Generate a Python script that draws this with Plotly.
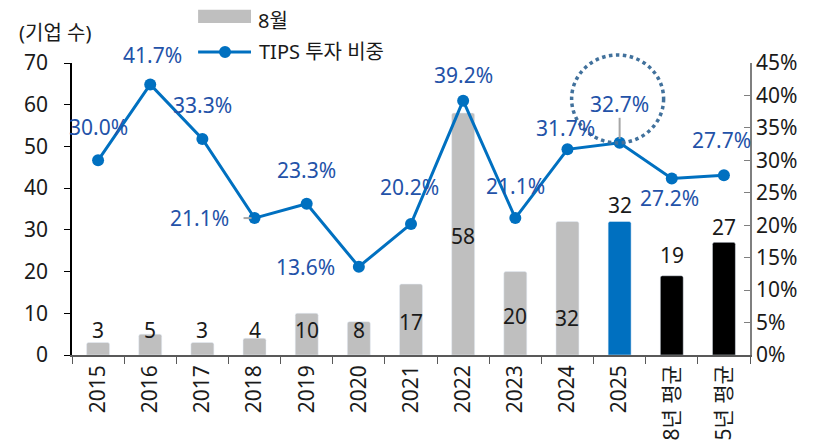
import plotly.graph_objects as go

categories = ["2015", "2016", "2017", "2018", "2019", "2020", "2021", "2022",
              "2023", "2024", "2025", "8년 평균", "5년 평균"]
companies = [3, 5, 3, 4, 10, 8, 17, 58, 20, 32, 32, 19, 27]
tips_share = [0.300, 0.417, 0.333, 0.211, 0.233, 0.136, 0.202, 0.392,
              0.211, 0.317, 0.327, 0.272, 0.277]
bar_colors = ["#BFBFBF"] * 10 + ["#0070C0", "#000000", "#000000"]
y_ticks = [0, 10, 20, 30, 40, 50, 60, 70]

# label placement (layout only)
bar_label_y = [6.0, 6.0, 6.0, 6.0, 6.0, 6.0, 7.9, 28.5, 9.3, 8.9, 36.0, 24.0, 30.7]
line_label_shift = [(0, 33), (2, 29), (0, 34), (-55, 0), (0, 34), (-53, 0), (-2, 37),
                    (0, 26), (0, 32), (-2, 21), (0, 39), (-2, -19), (-2, 35)]

FONT = "Noto Sans, Noto Sans CJK KR, sans-serif"
BLUE = "#0070C0"
LBLUE = "#2352A8"
i2018 = categories.index("2018")
i2025 = categories.index("2025")

fig = go.Figure()
fig.add_trace(go.Bar(
    x=categories, y=companies, name="8월", marker_color=bar_colors,
    width=0.44, marker_cornerradius=2, showlegend=False, yaxis="y"))
fig.add_trace(go.Scatter(
    x=categories, y=tips_share, name="TIPS 투자 비중", mode="lines+markers",
    line=dict(color=BLUE, width=3), marker=dict(color=BLUE, size=12),
    showlegend=False, yaxis="y2"))

ann = []
for i, (v, ly) in enumerate(zip(companies, bar_label_y)):
    ann.append(dict(x=i, y=ly, xref="x", yref="y", text=str(v), showarrow=False,
                    font=dict(family=FONT, size=21, color="#1a1a1a")))
for i, (v, (dx, dy)) in enumerate(zip(tips_share, line_label_shift)):
    ann.append(dict(x=i, y=v, xref="x", yref="y2", text=f"{v*100:.1f}%", showarrow=False,
                    xshift=dx, yshift=dy,
                    font=dict(family=FONT, size=21, color=LBLUE)))

# header / legend texts
ann.append(dict(x=-0.081, y=1.106, xref="paper", yref="paper", xanchor="left", yanchor="middle",
                text="(기업 수)", showarrow=False, font=dict(family=FONT, size=20, color="#1a1a1a")))
ann.append(dict(x=0.271, y=1.145, xref="paper", yref="paper", xanchor="left", yanchor="middle",
                text="8월", showarrow=False, font=dict(family=FONT, size=20, color="#1a1a1a")))
ann.append(dict(x=0.273, y=1.038, xref="paper", yref="paper", xanchor="left", yanchor="middle",
                text="TIPS 투자 비중", showarrow=False, font=dict(family=FONT, size=20, color="#1a1a1a")))

shapes = [
    # legend keys
    dict(type="rect", xref="paper", yref="paper", x0=0.186, x1=0.264, y0=1.137, y1=1.182,
         fillcolor="#BFBFBF", line=dict(width=0)),
    dict(type="line", xref="paper", yref="paper", x0=0.186, x1=0.264, y0=1.038, y1=1.038,
         line=dict(color=BLUE, width=3)),
    dict(type="circle", xref="paper", yref="paper", xsizemode="pixel", ysizemode="pixel",
         xanchor=0.2257, yanchor=1.038, x0=-6, x1=6, y0=-6, y1=6,
         fillcolor=BLUE, line=dict(width=0)),
    # leader lines
    dict(type="line", xref="x", yref="y2", xsizemode="pixel", ysizemode="pixel",
         xanchor=i2018, yanchor=tips_share[i2018], x0=-11, x1=-3, y0=0, y1=0,
         line=dict(color="#A6A6A6", width=2)),
    dict(type="line", xref="x", yref="y2", xsizemode="pixel", ysizemode="pixel",
         xanchor=i2025, yanchor=tips_share[i2025], x0=0, x1=0, y0=4, y1=25,
         line=dict(color="#A6A6A6", width=2)),
    # dotted highlight circle (paper-referenced so it is not clipped by the plot area)
    dict(type="circle", xref="paper", yref="paper", xsizemode="pixel", ysizemode="pixel",
         xanchor=(i2025 + 0.5) / len(categories) - 2 / 678, yanchor=0.877,
         x0=-46, x1=46, y0=-44, y1=44,
         line=dict(color="#41719C", width=3.5, dash="dot")),
]

fig.update_layout(
    width=824, height=438,
    margin=dict(l=64, r=82, t=55, b=91, autoexpand=False),
    paper_bgcolor="white", plot_bgcolor="white",
    font=dict(family=FONT, size=21, color="#1a1a1a"),
    annotations=ann, shapes=shapes, showlegend=False,
    xaxis=dict(type="category", range=[-0.5, len(categories) - 0.5], tickangle=-90,
               showline=True, linecolor="#595959", linewidth=1.5,
               ticks="outside", tickson="boundaries", ticklen=7, tickcolor="#595959",
               tickfont=dict(family=FONT, size=21), automargin=False, showgrid=False),
    yaxis=dict(range=[0, 70], tickmode="array", tickvals=y_ticks,
               ticktext=[f"{t}\u2007" for t in y_ticks],
               showline=True, linecolor="#000000", linewidth=1.5,
               ticks="outside", ticklen=6, tickcolor="#000000", showgrid=False, zeroline=False,
               tickfont=dict(family=FONT, size=21), automargin=False),
    yaxis2=dict(range=[0, 0.45], dtick=0.05, tickformat=".0%", overlaying="y", side="right",
                showline=True, linecolor="#7F7F7F", linewidth=1.5, ticks="inside", ticklen=6,
                tickcolor="#7F7F7F", showgrid=False, zeroline=False,
                tickfont=dict(family=FONT, size=21), automargin=False),
)

fig.write_html("out.html")
